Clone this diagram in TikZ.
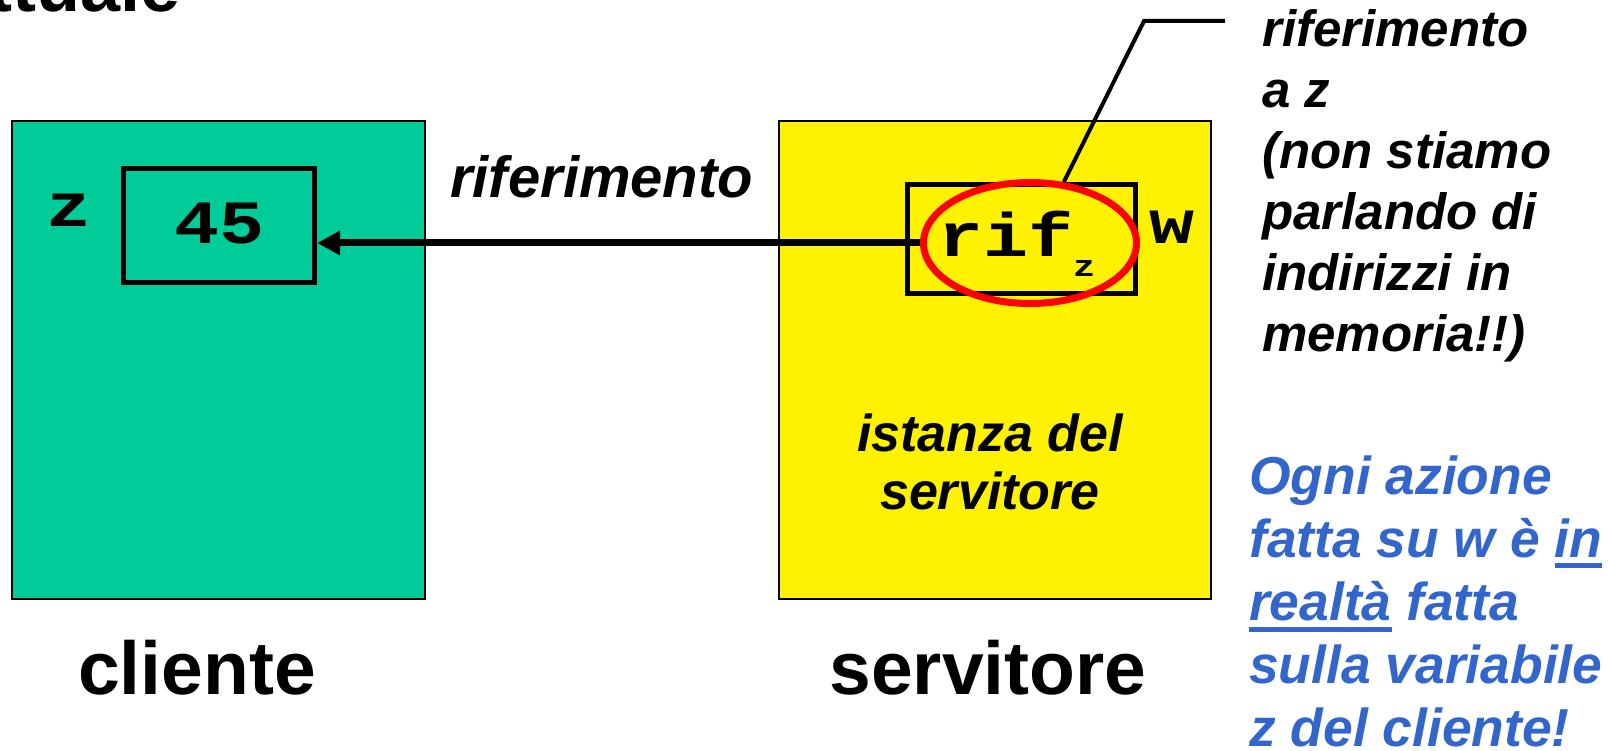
\documentclass[tikz,border=0pt]{standalone}
\usepackage{fontspec}
\setmainfont{Liberation Sans}
\newfontfamily\codefont{Liberation Mono}
\usetikzlibrary{arrows.meta,shapes.geometric}
\definecolor{clientgreen}{RGB}{0,204,153}
\definecolor{noteblue}{RGB}{51,102,204}
\newcommand{\markul}[2][-11pt]{\leavevmode\setbox0\hbox{#2}\rlap{\rule[#1]{\wd0}{5pt}}\box0\relax}
\newcommand{\codetxt}[1]{\scalebox{1}[0.82]{#1}}

\begin{document}
\begin{tikzpicture}[x=1pt,y=-1pt,
  bigbox/.style={draw,line width=2pt,inner sep=0pt},
  cellbox/.style={draw,line width=5pt,inner sep=0pt},
  code/.style={inner sep=0pt,font=\codefont\bfseries\fontsize{75}{75}\selectfont},
  caption/.style={inner sep=0pt,font=\bfseries\fontsize{75}{75}\selectfont}]
\clip (0,0) rectangle (1608,751);
% title, cut off at the top
\node[caption,anchor=base east,font=\bfseries\fontsize{72}{72}\selectfont] (title) at (181,12) {ttuale};
% the two boxes
\node[bigbox,fill=clientgreen,minimum width=413,minimum height=478] (cliente) at (218.5,360) {};
\node[bigbox,fill=yellow,minimum width=432,minimum height=478] (servitore) at (995,360) {};
\node[caption,anchor=base] (clientelbl) at (197,694) {cliente};
\node[caption,anchor=base] (servitorelbl) at (988,694) {servitore};
% variable z
\node[cellbox,minimum width=191,minimum height=114] (zbox) at (219,225.5) {};
\node[code,anchor=base] (zval) at (220,244) {\codetxt{45}};
\node[code,anchor=base] (zname) at (69,227) {\codetxt{z}};
% variable w
\node[cellbox,minimum width=228,minimum height=109] (wbox) at (1021.5,239) {};
\node[code,anchor=base west] (wval) at (938,257) {\codetxt{rif\raisebox{-24pt}{\fontsize{37}{37}\selectfont z}}};
\node[code,anchor=base] (wname) at (1172,244) {\codetxt{w}};
\node[draw=red,line width=7pt,ellipse,inner sep=0pt,minimum width=213,minimum height=121] (ring) at (1030,243) {};
% reference arrow
\draw[line width=7pt,-{Triangle[length=23pt,width=23pt]}] (ring.west) -- (ring.west -| zbox.east);
\node[anchor=base west,inner sep=0pt,font=\bfseries\itshape\fontsize{58}{58}\selectfont] (arrowlbl) at (450,198) {riferimento};
% callout
\coordinate (bend) at (1144,21);
\coordinate (tail) at (1225,21);
\draw[line width=4pt] (ring.61) -- (bend) -- (tail);
\node[anchor=north west,align=left,inner sep=0pt,font=\bfseries\itshape\fontsize{51}{61}\selectfont] (refnote) at (1262,9)
  {riferimento\\a z\\(non stiamo\\parlando di\\indirizzi in\\memoria!!)};
\node[anchor=north,align=center,inner sep=0pt,font=\bfseries\itshape\fontsize{52}{58}\selectfont] (inst) at (990,414)
  {istanza del\\servitore};
\node[anchor=north west,align=left,inner sep=0pt,text=noteblue,font=\bfseries\itshape\fontsize{53.4}{63}\selectfont] (bluenote) at (1249,456)
  {Ogni azione\\fatta su w è \markul[-10pt]{in}\\\markul{realtà} fatta\\sulla variabile\\z del cliente!};
\end{tikzpicture}
\end{document}
